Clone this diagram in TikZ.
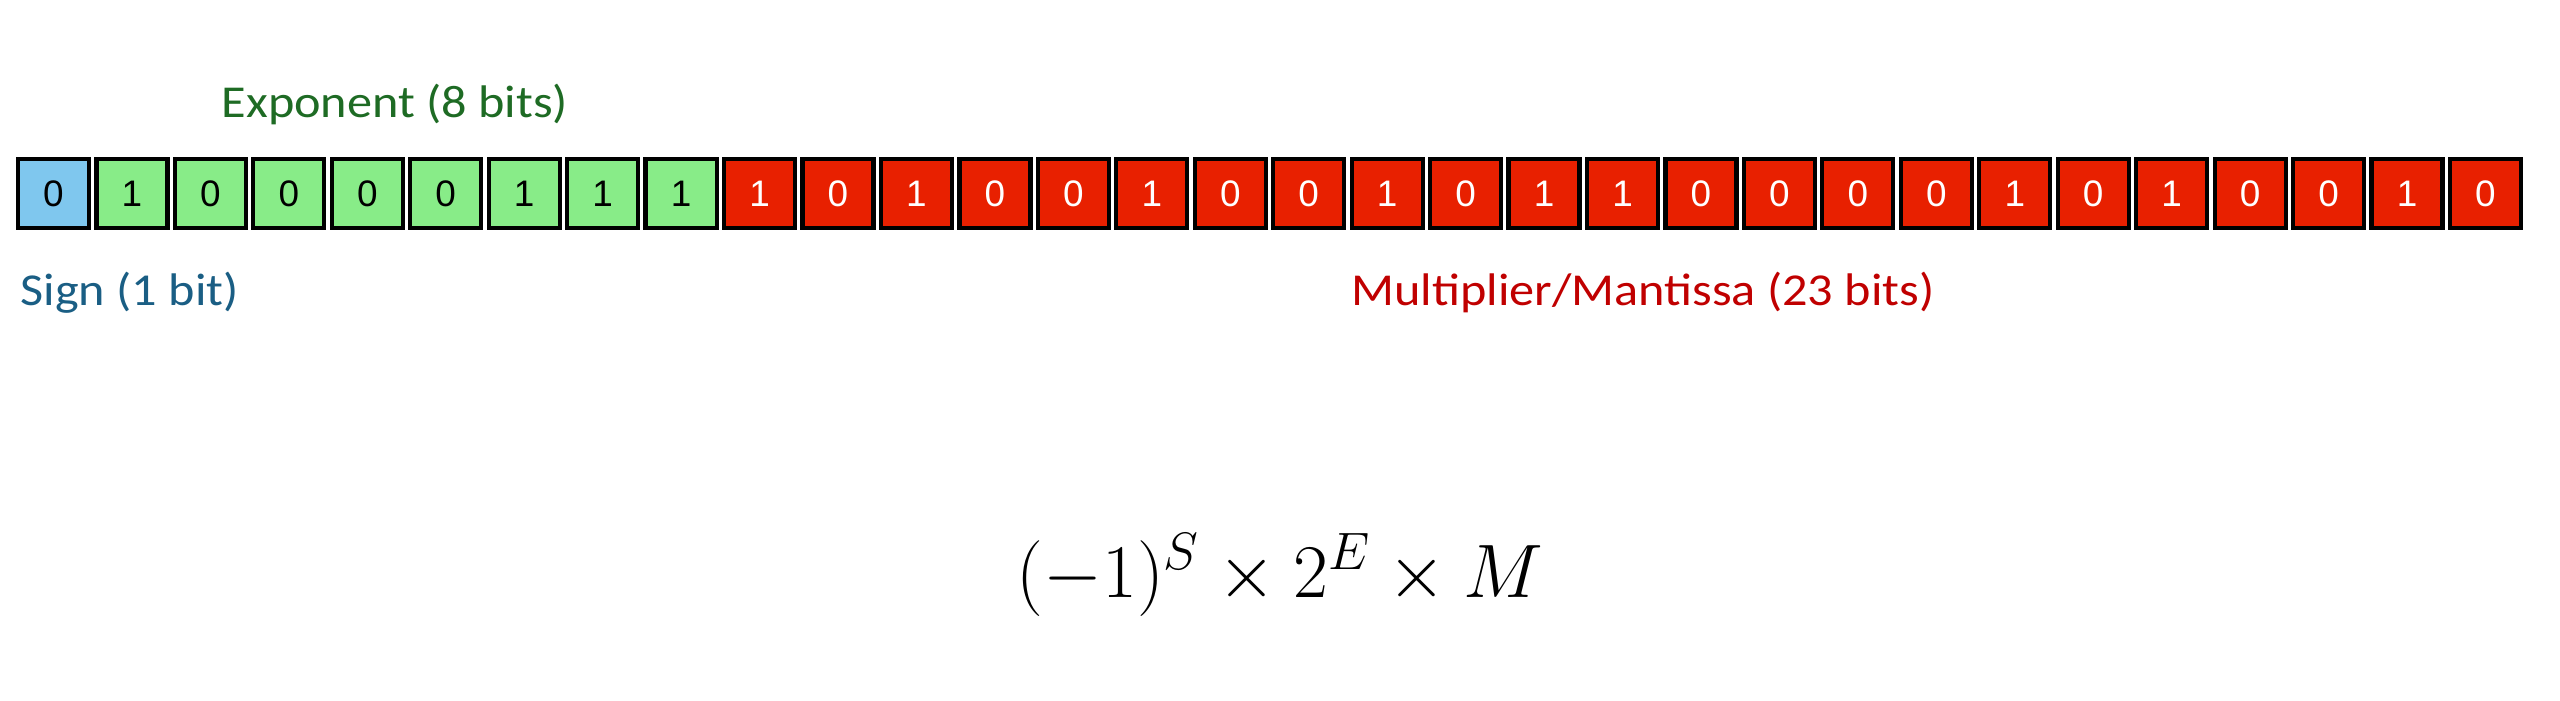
\documentclass[tikz,border=0pt]{standalone}
\usepackage{fontspec}
\usepackage{tikz}
\newfontfamily\labelfont[FakeStretch=1.1]{Carlito}
\newfontfamily\bitfont{Liberation Sans}
\definecolor{signblue}{HTML}{7FC7EE}
\definecolor{expgreen}{HTML}{88EC88}
\definecolor{mantred}{HTML}{E82000}
\definecolor{signtext}{HTML}{1A5E84}
\definecolor{exptext}{HTML}{1E6B24}
\definecolor{manttext}{HTML}{C00000}

\tikzset{
  bitbox/.style={draw=black, line width=1.2pt, minimum width=0.71cm, minimum height=0.69cm,
    inner sep=0pt, font=\bitfont\fontsize{10.5}{12}\selectfont},
  signbit/.style={bitbox, fill=signblue, text=black},
  expbit/.style={bitbox, fill=expgreen, text=black},
  mantbit/.style={bitbox, fill=mantred, text=white},
  fieldlabel/.style={anchor=base, inner sep=0pt, font=\labelfont\fontsize{13}{15}\selectfont}
}

\begin{document}
\begin{tikzpicture}
\useasboundingbox (0,0) rectangle (25.6,-7);

% Sign bit
\node[signbit] (b0) at (0.535,-1.935) {0};

% Exponent bits
\foreach \b [count=\i] in {1,0,0,0,0,1,1,1}
  \node[expbit] (b\i) at ({0.535+\i*0.7845},-1.935) {\b};

% Mantissa bits
\foreach \b [count=\i from 9] in {1,0,1,0,0,1,0,0,1,0,1,1,0,0,0,0,1,0,1,0,0,1,0}
  \node[mantbit] (b\i) at ({0.535+\i*0.7845},-1.935) {\b};

% Labels
\node[fieldlabel, text=exptext] (explabel) at (3.95,-1.17) {Exponent (8 bits)};
\node[fieldlabel, anchor=base west, text=signtext] (signlabel) at (0.2,-3.05) {Sign (1 bit)};
\node[fieldlabel, text=manttext] (mantlabel) at (16.43,-3.05) {Multiplier/Mantissa (23 bits)};

% Formula
\node[anchor=base, inner sep=0pt, font=\huge, scale=1.04] (formula) at (12.8,-5.97)
  {$(-1)^S \times 2^E \times M$};
\end{tikzpicture}
\end{document}
